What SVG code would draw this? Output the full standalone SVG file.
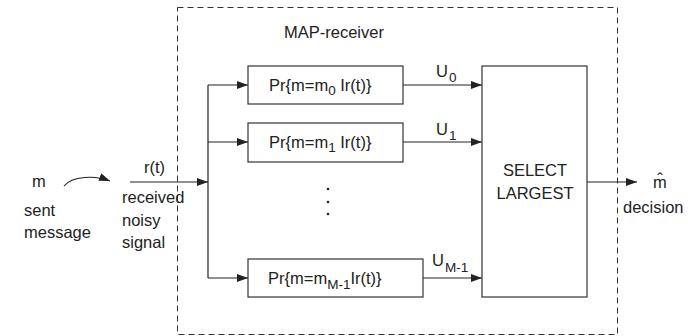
<svg xmlns="http://www.w3.org/2000/svg" width="688" height="336" viewBox="0 0 688 336">
<style>
text{font-family:"Liberation Sans",Arial,sans-serif;font-size:16.5px;fill:#222}
.sub{font-size:13.5px}
.box{fill:#fff;stroke:#333;stroke-width:1.2}
.ln{fill:none;stroke:#222;stroke-width:1.2}
</style>
<defs>
<marker id="ah" markerWidth="11" markerHeight="8" refX="11" refY="4" orient="auto" markerUnits="userSpaceOnUse">
<path d="M0,0L11,4L0,8Z" fill="#222"/>
</marker>
</defs>
<rect id="receiver" x="177.5" y="7.5" width="440" height="327" fill="none" stroke="#333" stroke-width="1" stroke-dasharray="6,4"/>
<text x="284" y="38">MAP-receiver</text>
<g id="connectors">
<path class="ln" d="M130,182H208" marker-end="url(#ah)"/>
<path class="ln" d="M208,85V278"/>
<path class="ln" d="M208,85H248" marker-end="url(#ah)"/>
<path class="ln" d="M208,142H248" marker-end="url(#ah)"/>
<path class="ln" d="M208,278H248" marker-end="url(#ah)"/>
<path class="ln" d="M403,85H482" marker-end="url(#ah)"/>
<path class="ln" d="M403,142H482" marker-end="url(#ah)"/>
<path class="ln" d="M423,278H482" marker-end="url(#ah)"/>
<path class="ln" d="M587,182H637" marker-end="url(#ah)"/>
<path class="ln" d="M64,186C72,176 95,175 110,181" marker-end="url(#ah)"/>
</g>
<g id="p0"><rect class="box" x="248" y="66" width="155" height="38"/><text x="269" y="91">Pr{m=m<tspan class="sub" dy="4">0</tspan><tspan dy="-4"> Ir(t)}</tspan></text></g>
<g id="p1"><rect class="box" x="248" y="123" width="155" height="39"/><text x="269" y="148">Pr{m=m<tspan class="sub" dy="4">1</tspan><tspan dy="-4"> Ir(t)}</tspan></text></g>
<g id="pM"><rect class="box" x="248" y="259" width="175" height="38"/><text x="268" y="284">Pr{m=m<tspan class="sub" dy="5">M-1</tspan><tspan dy="-5">Ir(t)}</tspan></text></g>
<g id="dots"><circle cx="328" cy="189" r="1.3" fill="#222"/><circle cx="328" cy="202" r="1.3" fill="#222"/><circle cx="328" cy="214" r="1.3" fill="#222"/></g>
<g id="select"><rect class="box" x="482" y="66" width="105" height="231"/><text x="535" y="176" text-anchor="middle">SELECT</text><text x="535" y="199" text-anchor="middle">LARGEST</text></g>
<g id="labels">
<text x="436" y="77">U<tspan class="sub" dx="1" dy="5">0</tspan></text>
<text x="436" y="135">U<tspan class="sub" dx="1" dy="5">1</tspan></text>
<text x="432" y="266">U<tspan class="sub" dx="1" dy="6">M-1</tspan></text>
<text x="32" y="187">m</text>
<text x="24" y="216">sent</text>
<text x="24" y="238">message</text>
<text x="144" y="173">r(t)</text>
<text x="122" y="203">received</text>
<text x="122" y="226">noisy</text>
<text x="122" y="248">signal</text>
<text x="653" y="188">m&#x302;</text>
<text x="623" y="213">decision</text>
</g>
</svg>
